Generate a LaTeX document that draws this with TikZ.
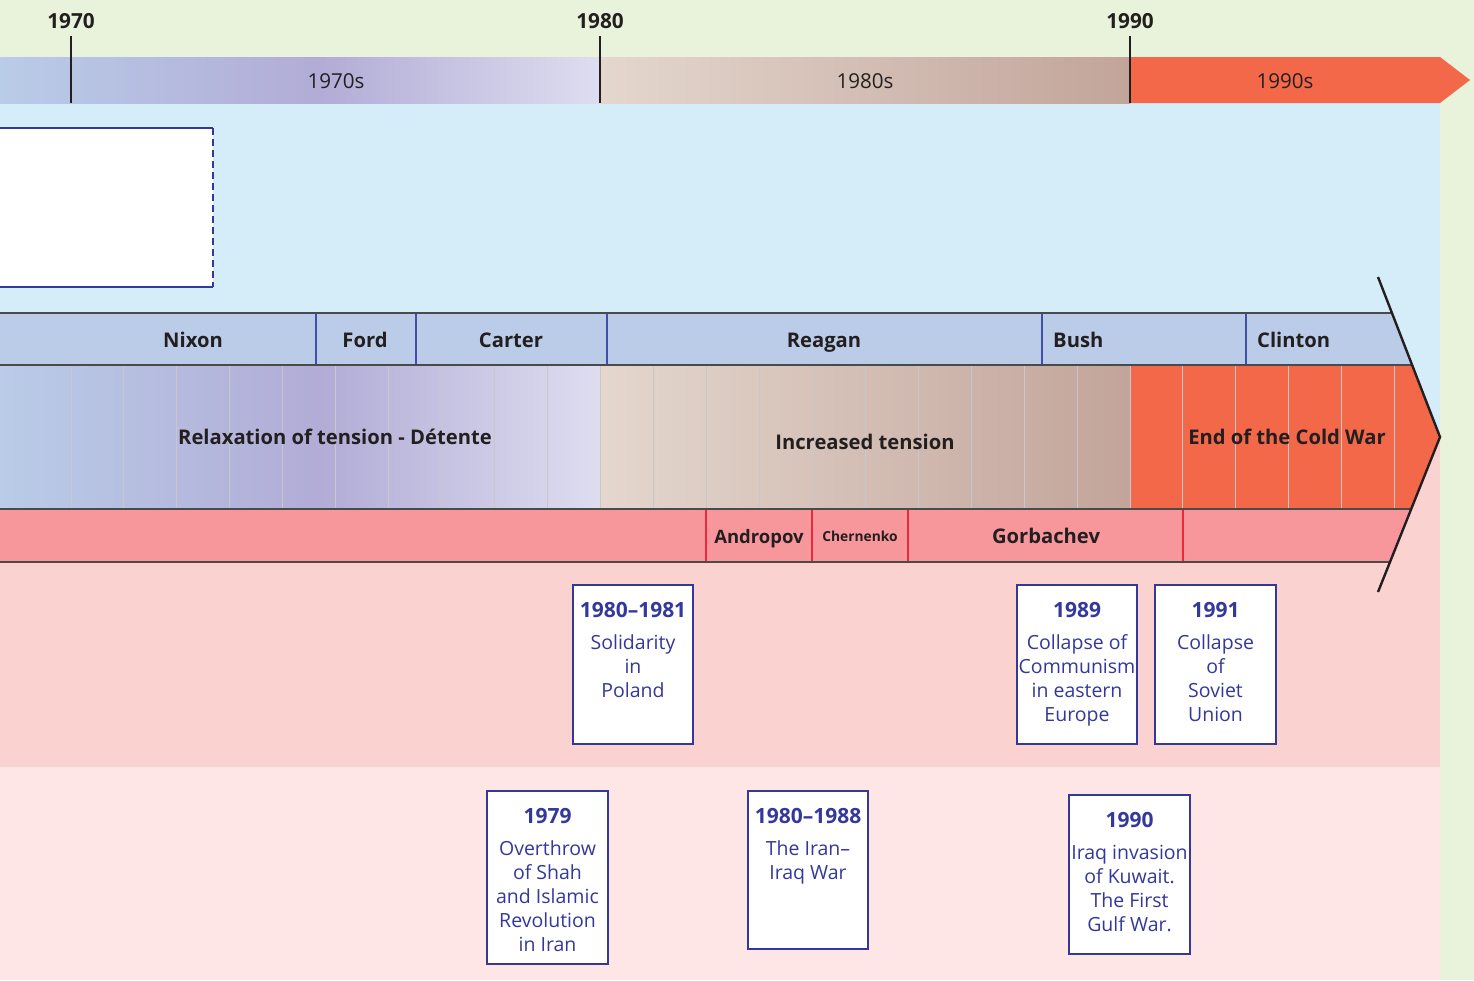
\documentclass[tikz,border=0pt]{standalone}
\usepackage{fontspec}
\setmainfont{Open Sans}
\definecolor{bggreen}{HTML}{E9F3DC}
\definecolor{bgblue}{HTML}{D5ECF9}
\definecolor{bgpink}{HTML}{FAD3D1}
\definecolor{bglpink}{HTML}{FDE6E5}
\definecolor{sevA}{HTML}{B9CCE8}
\definecolor{sevB}{HTML}{B2ACD6}
\definecolor{sevC}{HTML}{DEDDF0}
\definecolor{eigA}{HTML}{E4D7CE}
\definecolor{eigB}{HTML}{C2A49A}
\definecolor{ninety}{HTML}{F26849}
\definecolor{pres}{HTML}{BACCE8}
\definecolor{sov}{HTML}{F7979C}
\definecolor{evblue}{HTML}{34389A}
\definecolor{divblue}{HTML}{4050A8}
\definecolor{divred}{HTML}{E82A3C}
\definecolor{bandline}{HTML}{4A4A4A}
\definecolor{txt}{HTML}{231F20}
\definecolor{yrline}{HTML}{C9C6CC}
\newcommand{\evyear}[1]{{\fontsize{21}{24}\selectfont\bfseries #1}}
\begin{document}
\begin{tikzpicture}[x=1pt,y=-1pt,
  yearlbl/.style={font=\fontsize{20.8}{24}\selectfont\bfseries, text=txt, inner sep=0, anchor=base},
  declbl/.style={font=\fontsize{20.6}{24}\selectfont, text=txt, inner sep=0, anchor=base},
  bandlbl/.style={font=\fontsize{20.2}{24}\selectfont\bfseries, text=txt, inner sep=0, anchor=base},
  ticks/.style={line width=2.2pt, draw=txt},
  bline/.style={line width=1.6pt, draw=bandline},
  pdiv/.style={line width=1.4pt, draw=divblue},
  sdiv/.style={line width=1.4pt, draw=divred},
  yline/.style={line width=1pt, draw=yrline},
  evbox/.style={draw=evblue, line width=2.6pt, fill=white, minimum width=120, minimum height=159, inner sep=0},
  evtext/.style={font=\fontsize{19.5}{24}\selectfont, text=evblue, align=center, inner sep=0, anchor=north}
]
\useasboundingbox (0,0) rectangle (1474,980);
% backgrounds
\fill[bggreen] (0,0) rectangle (1474,980);
\fill[bgblue] (0,103) rectangle (1440,437);
\fill[bgpink] (0,437) rectangle (1440,767);
\fill[bglpink] (0,767) rectangle (1440,980);
% decade band
\shade[left color=sevA,right color=sevB] (0,57) rectangle (320,103);
\shade[left color=sevB,right color=sevC] (320,57) rectangle (600,103);
\shade[left color=eigA,right color=eigB] (600,57) rectangle (1130,103);
\fill[ninety] (1130,57) -- (1440,57) -- (1470,80) -- (1440,103) -- (1130,103) -- cycle;
\draw[ticks] (71,36) -- (71,103);
\draw[ticks] (600,36) -- (600,103);
\draw[ticks] (1130,36) -- (1130,103);
\node[yearlbl] (y70) at (71,28) {1970};
\node[yearlbl] (y80) at (600,28) {1980};
\node[yearlbl] (y90) at (1130,28) {1990};
\node[declbl] (d70) at (336,88.5) {1970s};
\node[declbl] (d80) at (865,88.5) {1980s};
\node[declbl] (d90) at (1285,88.5) {1990s};
% empty box
\fill[white] (-5,128) rectangle (213,287);
\draw[evblue, line width=2.6pt] (-5,128) -- (213,128);
\draw[evblue, line width=2.6pt] (213,287) -- (-5,287);
\draw[evblue, line width=2.6pt, dash pattern=on 7pt off 4pt] (213,128) -- (213,287);
% bands
\begin{scope}
\clip (-10,277) -- (1378,277) -- (1440,437) -- (1378,592) -- (-10,592) -- cycle;
\fill[pres] (-10,313) rectangle (1450,365);
\shade[left color=sevA,right color=sevB] (-1,365) rectangle (320,509);
\shade[left color=sevB,right color=sevC] (320,365) rectangle (600,509);
\shade[left color=eigA,right color=eigB] (600,365) rectangle (1130,509);
\fill[ninety] (1130,365) rectangle (1450,509);
\foreach \k in {0,...,25} \draw[yline] ({71+\k*52.95},365) -- ++(0,144);
\fill[sov] (-10,509) rectangle (1450,562);
\draw[pdiv] (316,313) -- (316,365);
\draw[pdiv] (416,313) -- (416,365);
\draw[pdiv] (607,313) -- (607,365);
\draw[pdiv] (1042,313) -- (1042,365);
\draw[pdiv] (1246,313) -- (1246,365);
\draw[sdiv] (706,509) -- (706,562);
\draw[sdiv] (812,509) -- (812,562);
\draw[sdiv] (908,509) -- (908,562);
\draw[sdiv] (1183,509) -- (1183,562);
\draw[bline] (-10,313) -- (1450,313);
\draw[bline] (-10,365) -- (1450,365);
\draw[bline] (-10,509) -- (1450,509);
\draw[bline] (-10,562) -- (1450,562);
\end{scope}
\draw[line width=2.4pt, draw=txt] (1378,277) -- (1440,437) -- (1378,592);
% president labels
\node[bandlbl] (nixon) at (193,347.5) {Nixon};
\node[bandlbl] (ford) at (365,347.5) {Ford};
\node[bandlbl] (carter) at (511,347.5) {Carter};
\node[bandlbl] (reagan) at (824,347.5) {Reagan};
\node[bandlbl, anchor=base west] (bush) at (1053,347.5) {Bush};
\node[bandlbl, anchor=base west] (clinton) at (1257,347.5) {Clinton};
% tension labels
\node[bandlbl] (detente) at (335,444.5) {Relaxation of tension - Détente};
\node[bandlbl] (incr) at (865,449.5) {Increased tension};
\node[bandlbl] (endcw) at (1287,444.5) {End of the Cold War};
% soviet labels
\node[bandlbl, font=\fontsize{18.5}{22}\selectfont\bfseries] (andropov) at (759,543) {Andropov};
\node[bandlbl, font=\fontsize{13.8}{16}\selectfont\bfseries] (chern) at (860,541.5) {Chernenko};
\node[bandlbl] (gorb) at (1046,543.5) {Gorbachev};
% event boxes
\node[evbox] (b8081) at (633,664.5) {};
\node[evtext] (t8081) at (633,602.5) {\evyear{1980–1981}\\[8pt]Solidarity\\in\\Poland};
\node[evbox] (b89) at (1077,664.5) {};
\node[evtext] (t89) at (1077,602.5) {\evyear{1989}\\[8pt]Collapse of\\Communism\\in eastern\\Europe};
\node[evbox, minimum width=121] (b91) at (1215.5,664.5) {};
\node[evtext] (t91) at (1215.5,602.5) {\evyear{1991}\\[8pt]Collapse\\of\\Soviet\\Union};
\node[evbox, minimum width=121, minimum height=173] (b79) at (547.5,877.5) {};
\node[evtext] (t79) at (547.5,808.5) {\evyear{1979}\\[8pt]Overthrow\\of Shah\\and Islamic\\Revolution\\in Iran};
\node[evbox, minimum height=158] (b8088) at (808,870) {};
\node[evtext] (t8088) at (808,808.5) {\evyear{1980–1988}\\[8pt]The Iran–\\Iraq War};
\node[evbox, minimum width=121] (b90) at (1129.5,874.5) {};
\node[evtext] (t90) at (1129.5,812.5) {\evyear{1990}\\[8pt]Iraq invasion\\of Kuwait.\\The First\\Gulf War.};
\end{tikzpicture}
\end{document}
